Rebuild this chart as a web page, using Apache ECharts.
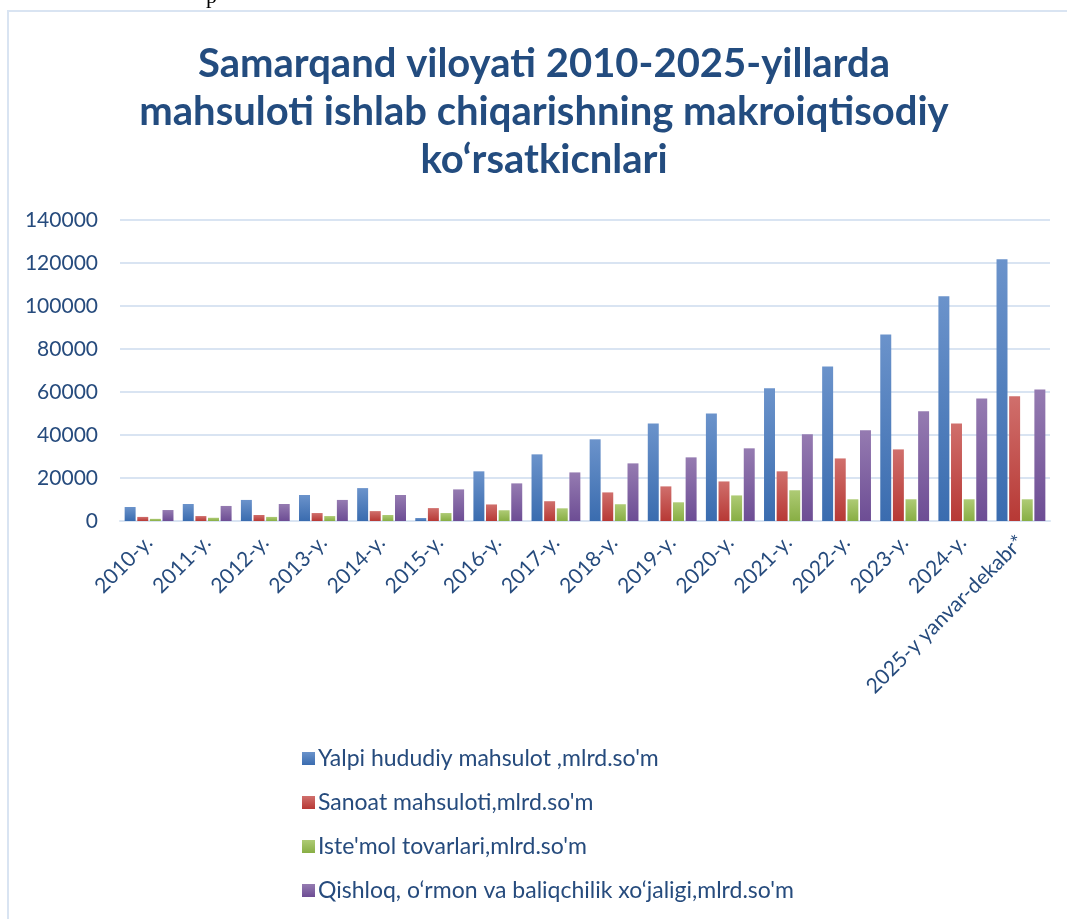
<!DOCTYPE html>
<html>
<head>
<meta charset="utf-8">
<script src="https://cdn.jsdelivr.net/npm/echarts@6/dist/echarts.min.js"></script>
<style>
  html, body { margin: 0; padding: 0; background: #fff; }
  #main { width: 1067px; height: 919px; }
</style>
</head>
<body>
<div id="main"></div>
<script>
const years = [
  "2010-y.", "2011-y.", "2012-y.", "2013-y.", "2014-y.", "2015-y.", "2016-y.", "2017-y.",
  "2018-y.", "2019-y.", "2020-y.", "2021-y.", "2022-y.", "2023-y.", "2024-y.", "2025-y yanvar-dekabr*"
];
const yalpi = [6500, 7900, 9800, 12100, 15300, 1400, 23100, 31000, 38000, 45400, 50000, 61700, 71900, 86800, 104500, 121700];
const sanoat = [1900, 2300, 2800, 3700, 4600, 6000, 7700, 9200, 13300, 16100, 18400, 23100, 29100, 33300, 45400, 58000];
const istemol = [1000, 1500, 1900, 2300, 2800, 3700, 5000, 5900, 7800, 8700, 11900, 14300, 10100, 10100, 10100, 10100];
const qishloq = [5100, 7000, 7900, 9800, 12100, 14700, 17500, 22600, 26800, 29600, 33800, 40300, 42200, 51000, 57000, 61200];

const seriesNames = [
  "Yalpi hududiy mahsulot ,mlrd.so'm",
  "Sanoat mahsuloti,mlrd.so'm",
  "Iste'mol tovarlari,mlrd.so'm",
  "Qishloq, o‘rmon va baliqchilik xo‘jaligi,mlrd.so'm"
];

const textColor = "#264B7D";
const gridColor = "#D9E4F2";

const grad = (top, bottom) =>
  new echarts.graphic.LinearGradient(0, 0, 0, 1, [
    { offset: 0, color: top },
    { offset: 1, color: bottom },
  ]);

const colors = [
  grad("#6B93CB", "#3A6CAF"),
  grad("#D06F6C", "#B73935"),
  grad("#AECB75", "#88AE44"),
  grad("#957BB1", "#6D4D94"),
];

const makeSeries = (name, data, i) => ({
  name: name,
  type: "bar",
  data: data,
  barCategoryGap: "16%",
  barGap: "15%",
  itemStyle: { color: colors[i] },
});

const chart = echarts.init(document.getElementById("main"));

const option = {
  animation: false,
  textStyle: { fontFamily: "Lato" },
  title: {
    text: "Samarqand viloyati 2010-2025-yillarda\nmahsuloti ishlab chiqarishning makroiqtisodiy\nko‘rsatkicnlari",
    left: 539,
    textAlign: "center",
    top: 35,
    textStyle: {
      fontFamily: "Lato",
      fontWeight: "bold",
      fontSize: 40,
      lineHeight: 48,
      color: "#234C7F",
    },
  },
  graphic: [
    {
      type: "rect",
      shape: { x: 8, y: 11, width: 1080, height: 930 },
      style: { fill: "none", stroke: gridColor, lineWidth: 2 },
      silent: true,
    },
    {
      type: "text",
      left: 206,
      top: -14,
      style: { text: "p", font: "22px 'Liberation Serif'", fill: "#000" },
      silent: true,
    },
  ],
  legend: {
    orient: "vertical",
    left: 297,
    top: 742,
    itemWidth: 13,
    itemHeight: 13,
    itemGap: 21,
    icon: "rect",
    textStyle: { fontFamily: "Lato", fontSize: 23, color: textColor, padding: [0, 0, 0, -2] },
    data: seriesNames,
  },
  grid: { left: 120, right: 17, top: 220, bottom: 398 },
  xAxis: {
    type: "category",
    data: years,
    axisLine: { lineStyle: { color: gridColor, width: 2 } },
    axisTick: { show: false },
    axisLabel: {
      interval: 0,
      rotate: 45,
      margin: 18,
      fontFamily: "Lato",
      fontSize: 21,
      color: textColor,
    },
  },
  yAxis: {
    type: "value",
    min: 0,
    max: 140000,
    interval: 20000,
    axisLine: { show: false },
    axisTick: { show: false },
    splitLine: { lineStyle: { color: gridColor, width: 2 } },
    axisLabel: {
      margin: 22,
      fontFamily: "Lato",
      fontSize: 21,
      color: textColor,
      formatter: (v) => String(v),
    },
  },
  series: [
    makeSeries(seriesNames[0], yalpi, 0),
    makeSeries(seriesNames[1], sanoat, 1),
    makeSeries(seriesNames[2], istemol, 2),
    makeSeries(seriesNames[3], qishloq, 3),
  ],
};

chart.setOption(option);
</script>
</body>
</html>
